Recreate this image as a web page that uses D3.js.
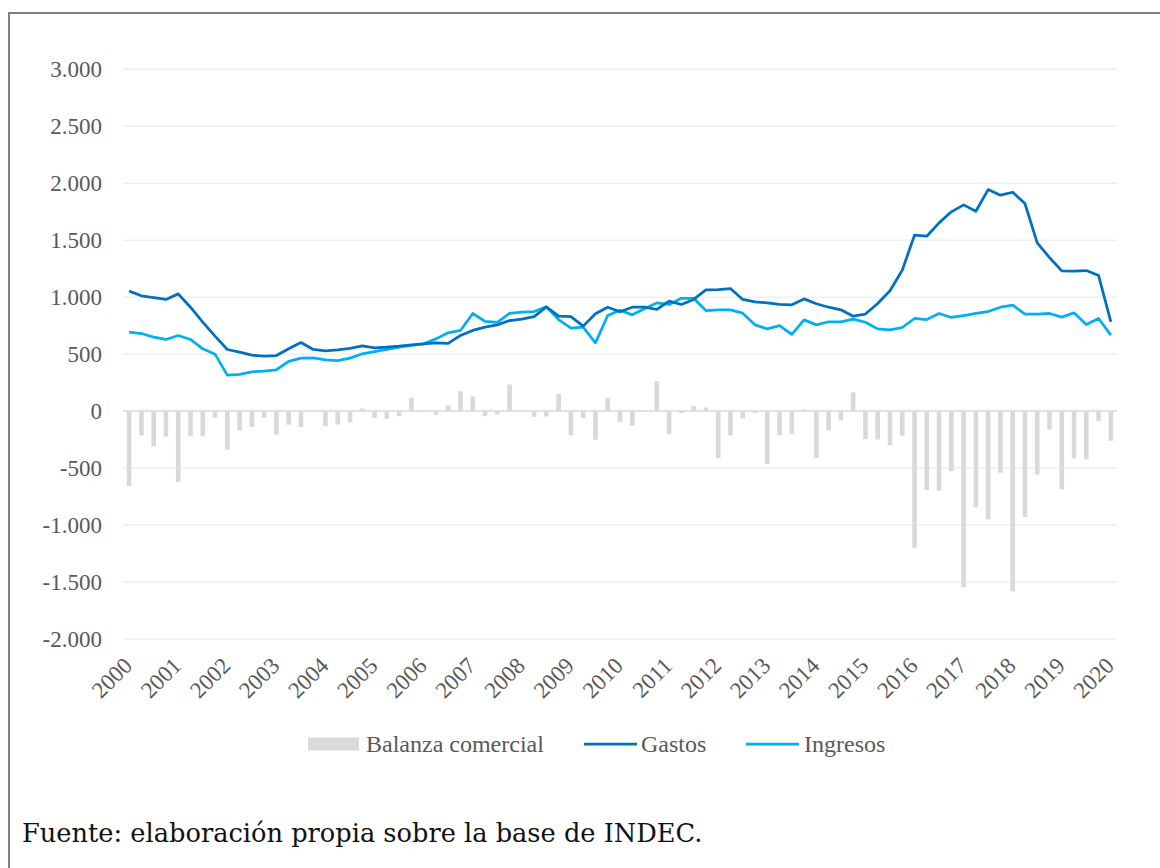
<!DOCTYPE html>
<html>
<head>
<meta charset="utf-8">
<script src="https://cdn.jsdelivr.net/npm/d3@7/dist/d3.min.js"></script>
<style>
  html, body { margin: 0; padding: 0; background: #ffffff; }
  svg { display: block; }
</style>
</head>
<body>
<svg id="chart" width="1160" height="868"></svg>
<script>
// ---- Data (quarterly, 2000Q1 .. 2020Q1) ----
const years = d3.range(2000, 2021);
const quarters = [];
years.forEach(y => { for (let q = 1; q <= 4; q++) { if (y < 2020 || q === 1) quarters.push(y + "Q" + q); } });

const gastos = [1053,1012,997,980,1029,912,781,658,541,518,491,482,488,547,602,541,529,538,550,573,
  555,561,570,582,591,599,594,664,708,737,757,795,807,830,915,833,830,746,854,912,
  872,912,912,892,965,936,980,1064,1067,1076,980,959,950,936,933,985,942,912,889,833,
  852,945,1056,1237,1544,1535,1652,1749,1810,1754,1944,1895,1921,1822,1477,1348,1231,1228,1234,1190,
  784];

const ingresos = [693,681,649,629,664,629,547,500,316,322,345,351,363,436,465,468,450,444,465,503,
  522,541,561,576,591,634,687,708,857,787,778,857,868,874,915,804,728,737,599,839,
  886,845,898,950,936,990,990,883,889,889,860,757,722,751,673,801,757,784,784,807,
  780,722,713,734,813,804,857,822,839,857,874,912,930,851,851,857,825,863,760,813,
  667];

const balanza = [-658,-213,-310,-222,-623,-216,-222,-58,-339,-170,-140,-58,-205,-120,-140,10,-132,-117,-99,23,
  -61,-67,-44,117,-9,-32,50,175,129,-44,-29,234,3,-50,-47,152,-213,-61,-251,117,
  -94,-129,-5,263,-202,-18,44,32,-412,-213,-64,-18,-462,-211,-202,15,-412,-170,-82,164,
  -245,-249,-298,-216,-1199,-693,-699,-526,-1547,-845,-950,-541,-1582,-930,-556,-161,-687,-415,-424,-88,
  -260];

const yTicks = [-2000,-1500,-1000,-500,0,500,1000,1500,2000,2500,3000];
const seriesNames = ["Balanza comercial", "Gastos", "Ingresos"];
const footerText = "Fuente: elaboración propia sobre la base de INDEC.";

// ---- Styles ----
const colGastos = "#0070C0";
const colIngresos = "#00B0F0";
const colBar = "#D9D9D9";
const colGrid = "#EFEFEF";
const colText = "#595959";
const serif = "'Liberation Serif', 'Times New Roman', serif";

const svg = d3.select("#chart");

// frame (cropped box)
svg.append("rect")
  .attr("x", 9).attr("y", 13).attr("width", 1200).attr("height", 900)
  .attr("fill", "none").attr("stroke", "#7F7F7F").attr("stroke-width", 2);

const x = d3.scaleBand().domain(quarters).range([123, 1117]).padding(0);
const y = d3.scaleLinear().domain([-2000, 3000]).range([639, 69.3]);
const cx = d => x(d) + x.bandwidth() / 2;

// gridlines
svg.append("g").selectAll("line").data(yTicks.filter(t => t !== 0)).join("line")
  .attr("x1", 123).attr("x2", 1117)
  .attr("y1", d => y(d)).attr("y2", d => y(d))
  .attr("stroke", colGrid).attr("stroke-width", 1.5);

// y axis labels
const fmt = v => d3.format(",")(v).replace(/,/g, ".").replace("−", "-");
svg.append("g").selectAll("text").data(yTicks).join("text")
  .attr("x", 102).attr("y", d => y(d))
  .attr("text-anchor", "end").attr("dominant-baseline", "central")
  .attr("font-family", serif).attr("font-size", 23).attr("fill", colText)
  .text(d => fmt(d));

// bars
const barW = 4.6;
svg.append("g").selectAll("rect").data(quarters).join("rect")
  .attr("x", (d) => cx(d) - barW / 2)
  .attr("width", barW)
  .attr("y", (d, i) => Math.min(y(balanza[i]), y(0)))
  .attr("height", (d, i) => Math.abs(y(balanza[i]) - y(0)))
  .attr("fill", colBar);

// zero axis line
svg.append("line")
  .attr("x1", 123).attr("x2", 1117).attr("y1", y(0)).attr("y2", y(0))
  .attr("stroke", colBar).attr("stroke-width", 1.5);

// lines
const lineGen = arr => d3.line().x((d, i) => cx(quarters[i])).y(d => y(d))(arr);
svg.append("path").attr("d", lineGen(ingresos))
  .attr("fill", "none").attr("stroke", colIngresos).attr("stroke-width", 2.75)
  .attr("stroke-linejoin", "round");
svg.append("path").attr("d", lineGen(gastos))
  .attr("fill", "none").attr("stroke", colGastos).attr("stroke-width", 2.75)
  .attr("stroke-linejoin", "round");

// x axis labels (years, at Q1)
svg.append("g").selectAll("text").data(years).join("text")
  .attr("transform", d => `translate(${cx(d + "Q1") + 4.5},667) rotate(-45)`)
  .attr("text-anchor", "end")
  .attr("font-family", serif).attr("font-size", 23).attr("fill", colText)
  .text(d => d);

// legend
const lg = svg.append("g").attr("font-family", serif).attr("font-size", 24).attr("fill", colText);
const ly = 744;
lg.append("rect").attr("x", 308).attr("y", ly - 6.5).attr("width", 51).attr("height", 13).attr("fill", colBar);
lg.append("text").attr("x", 366).attr("y", ly).attr("dominant-baseline", "central").text(seriesNames[0]);
lg.append("line").attr("x1", 584).attr("x2", 637).attr("y1", ly).attr("y2", ly)
  .attr("stroke", colGastos).attr("stroke-width", 2.75);
lg.append("text").attr("x", 641).attr("y", ly).attr("dominant-baseline", "central").text(seriesNames[1]);
lg.append("line").attr("x1", 746).attr("x2", 799).attr("y1", ly).attr("y2", ly)
  .attr("stroke", colIngresos).attr("stroke-width", 2.75);
lg.append("text").attr("x", 804).attr("y", ly).attr("dominant-baseline", "central").text(seriesNames[2]);

// footer
const ft = svg.append("text")
  .attr("x", 22).attr("y", 842)
  .attr("font-family", "'DejaVu Serif', serif").attr("font-size", 26).attr("fill", "#111")
  .text(footerText);
const w = ft.node().getComputedTextLength();
ft.attr("font-size", 26 * 681 / w);
</script>
</body>
</html>
